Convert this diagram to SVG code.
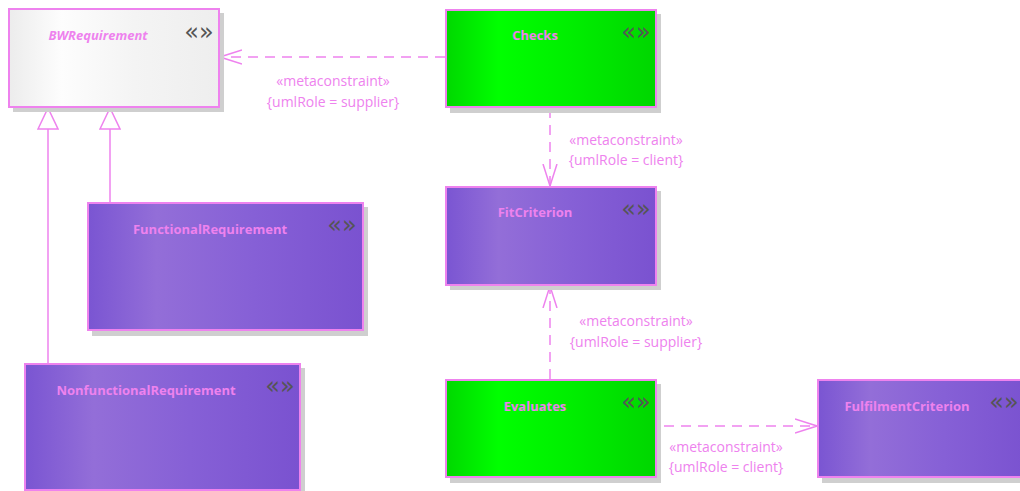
<svg xmlns="http://www.w3.org/2000/svg" width="1020" height="491" viewBox="0 0 1020 491">
<defs>
<linearGradient id="gPurple" x1="0" y1="0" x2="1" y2="0">
<stop offset="0" stop-color="#7a55d2"/>
<stop offset="0.25" stop-color="#936ed8"/>
<stop offset="0.6" stop-color="#8660d6"/>
<stop offset="1" stop-color="#7a52d0"/>
</linearGradient>
<linearGradient id="gGreen" x1="0" y1="0" x2="1" y2="0">
<stop offset="0" stop-color="#00d800"/>
<stop offset="0.25" stop-color="#00ff00"/>
<stop offset="0.6" stop-color="#00ee00"/>
<stop offset="1" stop-color="#00d600"/>
</linearGradient>
<linearGradient id="gWhite" x1="0" y1="0" x2="1" y2="0">
<stop offset="0" stop-color="#ececec"/>
<stop offset="0.25" stop-color="#fdfdfd"/>
<stop offset="0.6" stop-color="#f4f4f4"/>
<stop offset="1" stop-color="#eeeeee"/>
</linearGradient>
<marker id="open" markerWidth="24" markerHeight="16" refX="22" refY="8" orient="auto" markerUnits="userSpaceOnUse">
<path d="M0,1 L22,8 L0,15" fill="none" stroke="#ee82ee" stroke-width="1.5"/>
</marker>
<marker id="tri" markerWidth="24" markerHeight="22" refX="22" refY="11" orient="auto" markerUnits="userSpaceOnUse">
<path d="M1,1 L22,11 L1,21 Z" fill="#ffffff" stroke="#ee82ee" stroke-width="1.5"/>
</marker>
</defs>
<style>
.shadow{fill:#cfcfcf}
.box{stroke:#ee82ee;stroke-width:2}
.title{font-family:"Open Sans","Liberation Sans",sans-serif;font-size:13px;font-weight:bold;fill:#ee82ee;text-anchor:middle}
.st{font-family:"DejaVu Sans",sans-serif;font-size:24px;fill:#555555;text-anchor:middle}
.lbl{font-family:"Open Sans","Liberation Sans",sans-serif;font-size:14px;fill:#ee82ee;text-anchor:middle}
.dash{fill:none;stroke:#ee82ee;stroke-width:1.5;stroke-dasharray:10,7}
.solid{fill:none;stroke:#ee82ee;stroke-width:1.5}
</style>
<g id="connectors">
<line class="solid" x1="48" y1="363" x2="48" y2="108" marker-end="url(#tri)"/>
<line class="solid" x1="110" y1="202" x2="110" y2="108" marker-end="url(#tri)"/>
<line class="dash" x1="445" y1="57" x2="220" y2="57" marker-end="url(#open)"/>
<line class="dash" x1="550" y1="108" x2="550" y2="186" marker-end="url(#open)"/>
<line class="dash" x1="550" y1="379" x2="550" y2="286" marker-end="url(#open)"/>
<line class="dash" x1="664" y1="426" x2="817" y2="426" marker-end="url(#open)"/>
<text class="lbl" x="333" y="86">«metaconstraint»</text>
<text class="lbl" x="333" y="107">{umlRole = supplier}</text>
<text class="lbl" x="626" y="145">«metaconstraint»</text>
<text class="lbl" x="626" y="165">{umlRole = client}</text>
<text class="lbl" x="636" y="326">«metaconstraint»</text>
<text class="lbl" x="636" y="347">{umlRole = supplier}</text>
<text class="lbl" x="726" y="452">«metaconstraint»</text>
<text class="lbl" x="726" y="472">{umlRole = client}</text>
</g>
<g id="BWRequirement">
<rect class="shadow" x="13" y="13" width="211" height="99"/>
<rect class="box" x="9" y="9" width="210" height="98" fill="url(#gWhite)"/>
<text class="title" x="98" y="40" font-style="italic">BWRequirement</text>
<text class="st" x="199" y="40">«»</text>
</g>
<g id="Checks">
<rect class="shadow" x="450" y="14" width="211" height="99"/>
<rect class="box" x="446" y="10" width="210" height="97" fill="url(#gGreen)"/>
<text class="title" x="535" y="40">Checks</text>
<text class="st" x="636" y="40">«»</text>
</g>
<g id="FitCriterion">
<rect class="shadow" x="450" y="191" width="211" height="99"/>
<rect class="box" x="446" y="187" width="210" height="98" fill="url(#gPurple)"/>
<text class="title" x="535" y="217">FitCriterion</text>
<text class="st" x="636" y="217">«»</text>
</g>
<g id="FunctionalRequirement">
<rect class="shadow" x="92" y="207" width="276" height="129"/>
<rect class="box" x="88" y="203" width="275" height="127" fill="url(#gPurple)"/>
<text class="title" x="210" y="234">FunctionalRequirement</text>
<text class="st" x="342" y="233">«»</text>
</g>
<g id="NonfunctionalRequirement">
<rect class="shadow" x="29" y="368" width="276" height="129"/>
<rect class="box" x="25" y="364" width="275" height="126" fill="url(#gPurple)"/>
<text class="title" x="146" y="395">NonfunctionalRequirement</text>
<text class="st" x="280" y="394">«»</text>
</g>
<g id="Evaluates">
<rect class="shadow" x="450" y="384" width="211" height="99"/>
<rect class="box" x="446" y="380" width="210" height="97" fill="url(#gGreen)"/>
<text class="title" x="535" y="411">Evaluates</text>
<text class="st" x="636" y="410">«»</text>
</g>
<g id="FulfilmentCriterion">
<rect class="shadow" x="822" y="384" width="211" height="99"/>
<rect class="box" x="818" y="380" width="210" height="97" fill="url(#gPurple)"/>
<text class="title" x="907" y="411">FulfilmentCriterion</text>
<text class="st" x="1004" y="410">«»</text>
</g>
</svg>
